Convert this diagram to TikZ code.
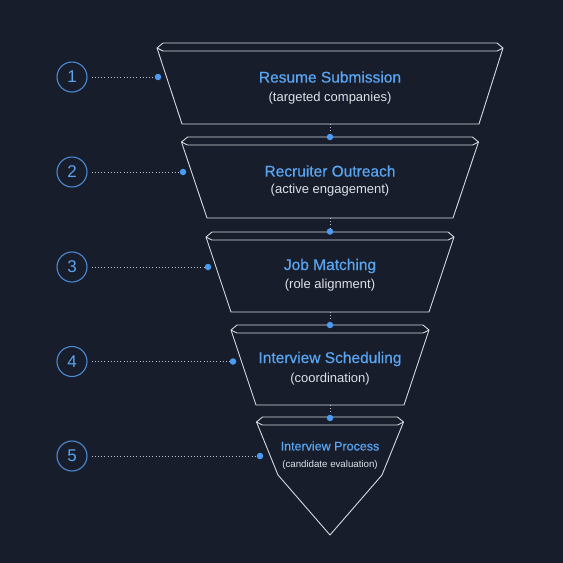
\documentclass[tikz,border=0pt]{standalone}
\usepackage{fontspec}
\setmainfont{Liberation Sans}
\newfontfamily\ttlfont[FakeBold=0.5]{Liberation Sans}
\definecolor{bg}{HTML}{181D2B}
\definecolor{edge}{HTML}{D4D8E0}
\definecolor{ttl}{HTML}{5AA5F2}
\definecolor{sub}{HTML}{DDE1E8}
\definecolor{dotc}{HTML}{4A9BF2}
\definecolor{ring}{HTML}{4A8AD2}
\definecolor{dline}{HTML}{B8C2D4}
\tikzset{
  stageline/.style={draw=edge, line width=0.9pt, line join=round},
  ttltext/.style={text=ttl, font=\ttlfont\fontsize{15.5}{18}\selectfont, inner sep=0pt},
  subtext/.style={text=sub, font=\fontsize{13}{15}\selectfont, inner sep=0pt},
  numring/.style={circle, draw=ring, line width=1.1pt, minimum size=30pt, inner sep=0pt, text=ttl, font=\fontsize{17}{20}\selectfont},
  bluedot/.style={circle, fill=dotc, minimum size=6.5pt, inner sep=0pt},
  dotline/.style={draw=dline, line width=1pt, dash pattern=on 1pt off 2.2pt},
}
\begin{document}
\begin{tikzpicture}[x=1pt,y=-1pt]
\fill[bg] (0,0) rectangle (563,563);
\useasboundingbox (0,0) rectangle (563,563);
% stages: T, xL, xR, B, bL, bR
\foreach \T/\xL/\xR/\B/\bL/\bR in {43/157/503/124/182/479, 137/181.5/478.5/218/207/453, 232/206/454/312/231/429, 325/231/429/405/256/404}{
  \path[stageline] (\xL+6,\T) -- (\xR-6,\T) -- (\xR,\T+5) -- (\bR,\B) -- (\bL,\B) -- (\xL,\T+5) -- cycle;
  \path[stageline] (\xL,\T+5) -- (\xL+6,\T+8) -- (\xR-6,\T+8) -- (\xR,\T+5);
}
% stage 5 (point)
\path[stageline] (262.5,417) -- (397.5,417) -- (403.5,422) -- (382,475) -- (330,535) -- (278,475) -- (256.5,422) -- cycle;
\path[stageline] (256.5,422) -- (262.5,425) -- (397.5,425) -- (403.5,422);

% texts
\node[ttltext] (t1) at (330,77) {Resume Submission};
\node[subtext] (s1) at (330,98) {(targeted companies)};
\node[ttltext] (t2) at (330,171) {Recruiter Outreach};
\node[subtext] (s2) at (330,190) {(active engagement)};
\node[ttltext] (t3) at (330,266) {Job Matching};
\node[subtext] (s3) at (330,285) {(role alignment)};
\node[ttltext] (t4) at (330,359) {Interview Scheduling};
\node[subtext] (s4) at (330,379) {(coordination)};
\node[ttltext, font=\ttlfont\fontsize{12.5}{15}\selectfont] (t5) at (330,446) {Interview Process};
\node[subtext, font=\fontsize{9.7}{12}\selectfont] (s5) at (330,465) {(candidate evaluation)};

% center connectors
\coordinate (b1) at (330,124);
\coordinate (b2) at (330,218);
\coordinate (b3) at (330,312);
\coordinate (b4) at (330,405);
\node[bluedot] (c2) at (330,137) {};
\node[bluedot] (c3) at (330,231.5) {};
\node[bluedot] (c4) at (330,325) {};
\node[bluedot] (c5) at (330,418) {};
\path[dotline] (b1) -- (c2);
\path[dotline] (b2) -- (c3);
\path[dotline] (b3) -- (c4);
\path[dotline] (b4) -- (c5);

% number circles and side connectors
\node[numring] (n1) at (72,77) {1};
\node[numring] (n2) at (72,172) {2};
\node[numring] (n3) at (72,267) {3};
\node[numring] (n4) at (72,361.5) {4};
\node[numring] (n5) at (72,456) {5};
\node[bluedot] (d1) at (158,77) {};
\node[bluedot] (d2) at (183,172) {};
\node[bluedot] (d3) at (208,267) {};
\node[bluedot] (d4) at (233,361.5) {};
\node[bluedot] (d5) at (260,456) {};
\path[dotline] ([xshift=4pt]n1.east) -- (d1);
\path[dotline] ([xshift=4pt]n2.east) -- (d2);
\path[dotline] ([xshift=4pt]n3.east) -- (d3);
\path[dotline] ([xshift=4pt]n4.east) -- (d4);
\path[dotline] ([xshift=4pt]n5.east) -- (d5);
\end{tikzpicture}
\end{document}
